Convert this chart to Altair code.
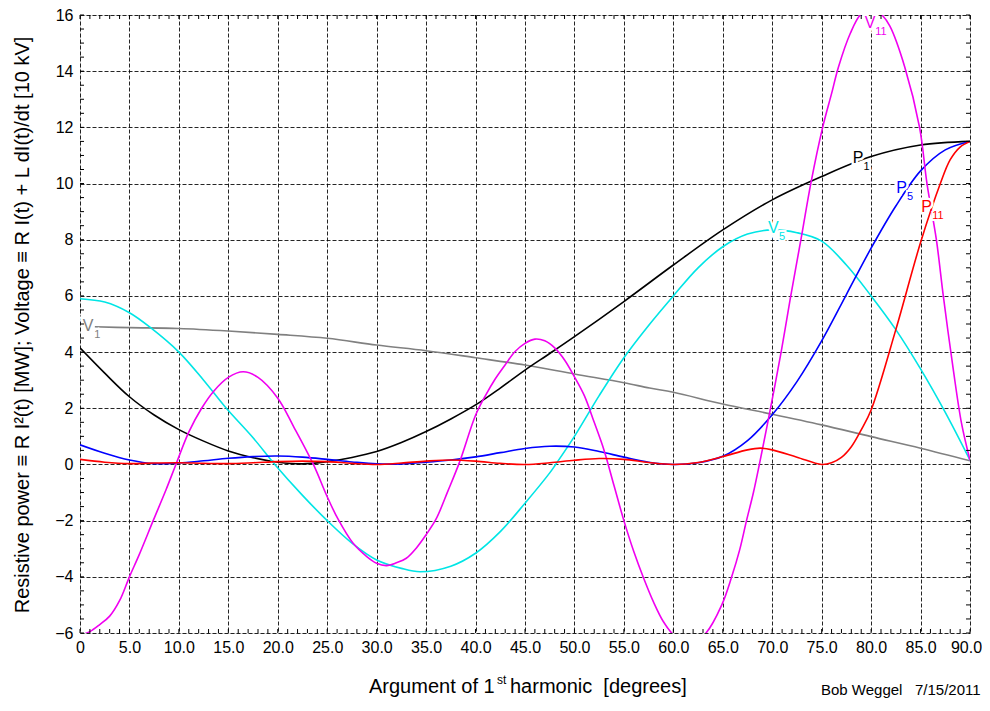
import altair as alt
import pandas as pd

FONT = "Liberation Sans"

# ---------------- data ----------------
series_names = ["V1", "P1", "V5", "P5", "V11", "P11"]
series_colors = ["#808080", "#000000", "#00e5e5", "#0000ff", "#f000f0", "#ff0000"]

v1_x = [1.5, 5, 10, 15, 20, 25, 30, 35, 40, 45, 50, 55, 57.6, 60, 65, 70, 75, 80, 85, 90]
v1_y = [4.9, 4.87, 4.84, 4.75, 4.63, 4.49, 4.25, 4.05, 3.8, 3.54, 3.22, 2.91, 2.72, 2.57, 2.15, 1.79, 1.41, 0.99, 0.58, 0.13]

p1_x = [0, 2.5, 5, 7.5, 10, 12.5, 15, 17.5, 20, 22.5, 25, 27.5, 30, 32.5, 35, 37.5, 40, 42.5, 45, 47.5, 50, 55, 60, 65, 70, 75, 80, 85, 90]
p1_y = [4.15, 3.25, 2.41, 1.76, 1.24, 0.83, 0.48, 0.24, 0.08, 0.02, 0.1, 0.25, 0.46, 0.78, 1.17, 1.62, 2.12, 2.72, 3.36, 3.95, 4.55, 5.8, 7.1, 8.35, 9.42, 10.25, 10.96, 11.37, 11.5]

v5_x = [0, 2.5, 5, 7.2, 10, 12.5, 14.8, 17.5, 19.7, 22.5, 25, 27.5, 30, 32.5, 34.4, 37.5, 40, 42.5, 45, 47.5, 48.1, 50, 52.5, 55, 57.5, 60, 62.5, 65, 67.5, 70, 72.5, 75, 77.5, 80, 82.5, 85, 87.5, 90]
v5_y = [5.9, 5.78, 5.4, 4.85, 4.0, 3.0, 2.0, 0.95, 0.0, -1.1, -2.0, -2.8, -3.4, -3.7, -3.82, -3.62, -3.16, -2.39, -1.38, -0.3, 0.0, 1.0, 2.45, 3.8, 4.95, 6.0, 7.0, 7.75, 8.2, 8.35, 8.25, 7.95, 7.1, 6.0, 4.8, 3.4, 1.85, 0.15]

p5_x = [0, 2.5, 5, 7.5, 10, 12.5, 15, 17.5, 20, 22.5, 25, 27.5, 30, 32.5, 35, 37.5, 40, 42.5, 45, 47.5, 50, 52.5, 55, 57.5, 60, 62.5, 65, 67.5, 70, 72.5, 75, 77.5, 80, 82.5, 85, 87.5, 90]
p5_y = [0.7, 0.4, 0.16, 0.03, 0.05, 0.13, 0.22, 0.28, 0.3, 0.26, 0.18, 0.09, 0.02, 0.02, 0.08, 0.16, 0.27, 0.42, 0.57, 0.65, 0.62, 0.46, 0.26, 0.08, 0.0, 0.06, 0.29, 0.85, 1.77, 2.95, 4.4, 6.05, 7.7, 9.2, 10.45, 11.2, 11.5]

v11_x = [0, 1, 2, 3, 4, 5, 6, 7.4, 8.7, 9.7, 11, 12.3, 13.5, 15, 16.5, 18, 20, 21.6, 23.6, 25, 26.1, 27.6, 29, 30, 31, 32, 33, 34, 35, 36, 37.2, 38.4, 40, 41, 42, 43, 44, 45, 46, 47, 48, 49, 50, 51, 52, 53, 54, 55, 56, 57, 58, 59, 60, 61.6, 63.3, 64.9, 65.9, 66.7, 67.4, 68.1, 68.7, 69.8, 70.9, 71.8, 73, 73.9, 75.1, 76, 76.7, 77.9, 78.9, 80, 81.1, 81.9, 83.4, 84.9, 85.65, 86.6, 87.3, 88.3, 89.15, 90]
v11_y = [-6.08, -5.95, -5.7, -5.4, -4.85, -4.0, -3.2, -2.0, -0.9, 0.0, 1.15, 2.0, 2.6, 3.1, 3.3, 3.1, 2.36, 1.35, 0.0, -1.15, -1.95, -2.8, -3.28, -3.52, -3.6, -3.5, -3.34, -2.98, -2.5, -1.95, -0.95, 0.1, 1.75, 2.45, 3.05, 3.55, 4.02, 4.31, 4.46, 4.4, 4.15, 3.72, 3.12, 2.45, 1.5, 0.5, -0.75, -2.0, -3.1, -4.05, -4.9, -5.6, -6.06, -6.4, -6.0, -5.0, -4.0, -3.05, -2.0, -1.0, 0.0, 1.95, 4.0, 5.85, 8.2, 10.0, 12.0, 13.2, 14.15, 15.35, 16.0, 16.25, 16.0, 15.6, 14.15, 12.0, 10.0, 8.0, 6.0, 3.4, 1.45, 0.15]

p11_x = [0, 2.5, 5, 7.5, 10, 12.5, 15, 17.5, 20, 22.5, 25, 27.5, 30, 32.5, 35, 37.5, 40, 42.5, 45, 47.5, 50, 52.5, 55, 57.5, 60, 62.5, 65, 67.5, 68.8, 70, 72.5, 75, 76, 77, 78, 79, 80, 82.5, 85, 87, 88, 89, 90]
p11_y = [0.18, 0.08, 0.03, 0.05, 0.06, 0.04, 0.03, 0.06, 0.1, 0.12, 0.1, 0.04, 0.0, 0.05, 0.12, 0.16, 0.12, 0.04, 0.0, 0.06, 0.15, 0.21, 0.18, 0.07, 0.0, 0.07, 0.28, 0.52, 0.58, 0.52, 0.26, 0.0, 0.06, 0.25, 0.63, 1.23, 1.94, 4.8, 7.9, 10.0, 10.85, 11.3, 11.5]

# curve labels: main letter, subscript, colour
label_main = ["V", "P", "V", "P", "V", "P"]
label_sub = ["1", "1", "5", "5", "11", "11"]
label_color = series_colors
label_mx = [0.81, 78.67, 70.1, 83.09, 79.89, 85.62]
label_my = [4.93, 10.91, 8.4, 9.85, 15.72, 9.17]
label_sx = [1.75, 79.55, 71.0, 83.95, 81.0, 86.75]
label_sy = [4.6, 10.6, 8.08, 9.52, 15.4, 8.85]

x_ticks_major = list(range(0, 91, 5))
y_ticks_major = list(range(-6, 17, 2))
x_ticks_minor = list(range(0, 91, 1))
y_ticks_minor = [v / 2 for v in range(-12, 33)]

# ---------------- build tables ----------------
rows = []
for name, xs_, ys_ in zip(series_names,
                          [v1_x, p1_x, v5_x, p5_x, v11_x, p11_x],
                          [v1_y, p1_y, v5_y, p5_y, v11_y, p11_y]):
    for i, (a, b) in enumerate(zip(xs_, ys_)):
        rows.append({"series": name, "deg": a, "val": b, "order": i})
df = pd.DataFrame(rows)

lab_main = pd.DataFrame({"deg": label_mx, "val": label_my, "txt": label_main, "col": label_color})
lab_sub = pd.DataFrame({"deg": label_sx, "val": label_sy, "txt": label_sub, "col": label_color})

W, H = 890, 618
xs = alt.Scale(domain=[0, 90], nice=False, zero=False)
ys = alt.Scale(domain=[-6, 16], nice=False, zero=False)

x_axis = alt.Axis(values=x_ticks_major, title=None, ticks=False, domain=False,
                  labelExpr="datum.value == 0 ? '0' : format(datum.value, '.1f')",
                  labelOffset={"condition": {"test": "datum.value == 90", "value": -4}, "value": 0},
                  grid=True, gridDash=[4, 2], gridColor="#000", gridOpacity=0.85, gridWidth=1,
                  labelFontSize=16, labelPadding=6, labelFont=FONT, labelColor="#000",
                  labelFlush=False, labelOverlap=False)
y_axis = alt.Axis(values=y_ticks_major, title=None, ticks=False, domain=False,
                  grid=True, gridDash=[4, 2], gridColor="#000", gridOpacity=0.85, gridWidth=1,
                  labelFontSize=16, labelPadding=7, labelFont=FONT, labelColor="#000",
                  labelFlush=False, labelOverlap=False)

lines = alt.Chart(df).mark_line(clip=True, strokeWidth=1.6, interpolate="catmull-rom").encode(
    x=alt.X("deg:Q", scale=xs, axis=x_axis),
    y=alt.Y("val:Q", scale=ys, axis=y_axis),
    color=alt.Color("series:N", scale=alt.Scale(domain=series_names, range=series_colors), legend=None),
    detail="series:N",
    order="order:Q",
)

halo_main = alt.Chart(lab_main).mark_text(font=FONT, fontSize=16, fill="white", stroke="white",
                                          strokeWidth=5, baseline="middle", align="center").encode(
    x=alt.X("deg:Q", scale=xs), y=alt.Y("val:Q", scale=ys), text="txt:N")
halo_sub = alt.Chart(lab_sub).mark_text(font=FONT, fontSize=11, fill="white", stroke="white",
                                        strokeWidth=4, baseline="middle", align="center").encode(
    x=alt.X("deg:Q", scale=xs), y=alt.Y("val:Q", scale=ys), text="txt:N")
text_main = alt.Chart(lab_main).mark_text(font=FONT, fontSize=16, baseline="middle", align="center").encode(
    x=alt.X("deg:Q", scale=xs), y=alt.Y("val:Q", scale=ys), text="txt:N",
    color=alt.Color("col:N", scale=None))
text_sub = alt.Chart(lab_sub).mark_text(font=FONT, fontSize=11, baseline="middle", align="center").encode(
    x=alt.X("deg:Q", scale=xs), y=alt.Y("val:Q", scale=ys), text="txt:N",
    color=alt.Color("col:N", scale=None))

xt = pd.DataFrame({"deg": x_ticks_minor})
yt = pd.DataFrame({"val": y_ticks_minor})
tick_bottom = alt.Chart(xt).mark_rule(color="black", strokeWidth=1).encode(
    x=alt.X("deg:Q", scale=xs), y=alt.value(H), y2=alt.value(H - 4))
tick_top = alt.Chart(xt).mark_rule(color="black", strokeWidth=1).encode(
    x=alt.X("deg:Q", scale=xs), y=alt.value(0), y2=alt.value(4))
tick_left = alt.Chart(yt).mark_rule(color="black", strokeWidth=1).encode(
    y=alt.Y("val:Q", scale=ys), x=alt.value(0), x2=alt.value(4))
tick_right = alt.Chart(yt).mark_rule(color="black", strokeWidth=1).encode(
    y=alt.Y("val:Q", scale=ys), x=alt.value(W), x2=alt.value(W - 4))


def free_text(s, x, y, size, angle=0, align="left", baseline="alphabetic"):
    kw = dict(font=FONT, fontSize=size, align=align, baseline=baseline, color="black")
    if angle:
        kw["angle"] = angle
    return alt.Chart(pd.DataFrame({"t": [s]})).mark_text(**kw).encode(
        x=alt.value(x), y=alt.value(y), text="t:N")


NB = "\u00a0"
xt1 = free_text("Argument of 1", 289, 678, 20)
xt2 = free_text("st", 417, 669, 12)
xt3 = free_text("harmonic" + NB + NB + "[degrees]", 430, 678, 20)
ytitle = free_text("Resistive power \u2261 R I\u00b2(t) [MW]; Voltage \u2261 R I(t) + L dI(t)/dt [10 kV]",
                   -51, 310, 20, angle=270, align="center")
footer = free_text("Bob Weggel" + NB + NB + NB + "7/15/2011", 741, 680, 15)

chart = alt.layer(
    lines, halo_main, halo_sub, text_main, text_sub,
    tick_bottom, tick_top, tick_left, tick_right,
    xt1, xt2, xt3, ytitle, footer,
).properties(
    width=W, height=H,
    autosize=alt.AutoSizeParams(type="none"),
    padding={"left": 72, "top": 7, "right": 12, "bottom": 66},
).configure_view(
    stroke="black", strokeWidth=2
).configure(background="white")

chart.save("out.html", embed_options={"renderer": "svg", "actions": False})
